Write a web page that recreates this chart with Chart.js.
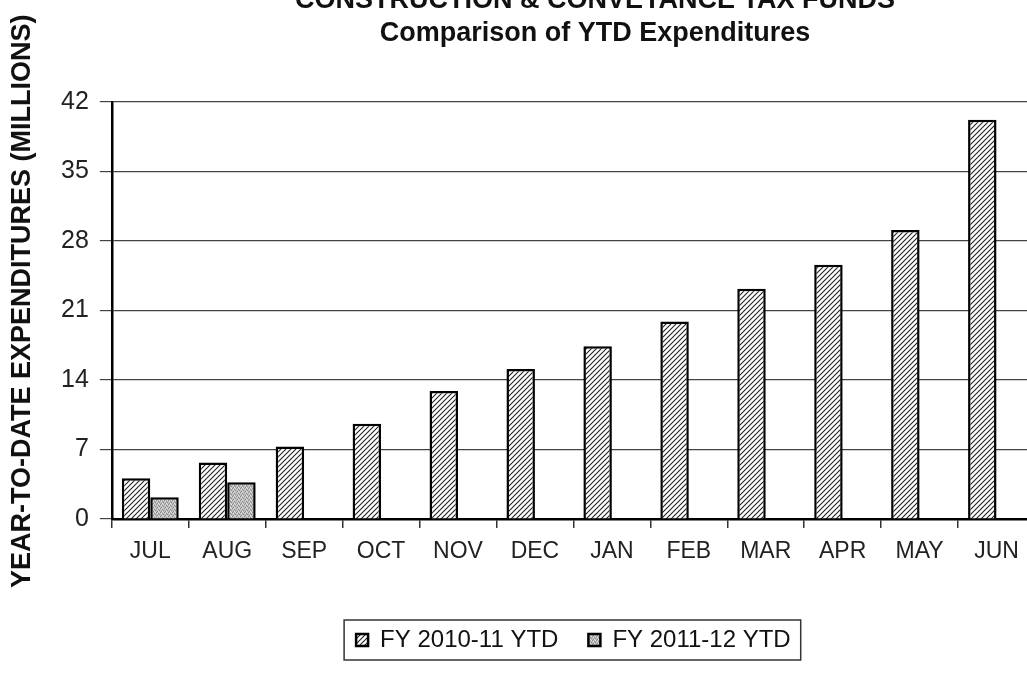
<!DOCTYPE html>
<html>
<head>
<meta charset="utf-8">
<script src="https://cdn.jsdelivr.net/npm/chart.js@4.4.1/dist/chart.umd.min.js"></script>
<style>
  html, body { margin: 0; padding: 0; background: #fff; overflow: hidden; }
  #wrap { width: 1027px; height: 677px; position: relative; overflow: hidden; }
</style>
</head>
<body>
<div id="wrap"><canvas id="chart" width="1035" height="677"></canvas></div>
<script>
const months = ["JUL", "AUG", "SEP", "OCT", "NOV", "DEC", "JAN", "FEB", "MAR", "APR", "MAY", "JUN"];
const fy1011 = [4.1, 5.7, 7.3, 9.6, 12.9, 15.1, 17.4, 19.9, 23.2, 25.6, 29.1, 40.2];
const fy1112 = [2.2, 3.7, null, null, null, null, null, null, null, null, null, null];
const seriesNames = ["FY 2010-11 YTD", "FY 2011-12 YTD"];
const yMax = 42;
const yStep = 7;
const titleLines = ["CONSTRUCTION & CONVEYANCE TAX FUNDS", "Comparison of YTD Expenditures"];
const yTitle = "YEAR-TO-DATE EXPENDITURES (MILLIONS)";

const FONT = "'Liberation Sans', Arial, sans-serif";

// hatch fill for the first series
function hatchPattern() {
    const s = 5;
    const c = document.createElement("canvas");
    c.width = s; c.height = s;
    const g = c.getContext("2d");
    g.fillStyle = "#fff";
    g.fillRect(0, 0, s, s);
    g.strokeStyle = "#222";
    g.lineWidth = 1.1;
    g.beginPath();
    g.moveTo(0, s); g.lineTo(s, 0);
    g.moveTo(-1, 1); g.lineTo(1, -1);
    g.moveTo(s - 1, s + 1); g.lineTo(s + 1, s - 1);
    g.stroke();
    return g.createPattern(c, "repeat");
}

// speckled grey fill for the second series
function stipplePattern() {
    const s = 4;
    const c = document.createElement("canvas");
    c.width = s; c.height = s;
    const g = c.getContext("2d");
    g.fillStyle = "#bdbdbd";
    g.fillRect(0, 0, s, s);
    g.fillStyle = "#8a8a8a";
    g.fillRect(0, 0, 1, 1); g.fillRect(2, 1, 1, 1); g.fillRect(1, 3, 1, 1); g.fillRect(3, 2, 1, 1);
    g.fillStyle = "#e2e2e2";
    g.fillRect(1, 1, 1, 1); g.fillRect(3, 0, 1, 1); g.fillRect(2, 3, 1, 1);
    return g.createPattern(c, "repeat");
}

const extraText = {
    id: "extraText",
    afterDraw(chart) {
        const ctx = chart.ctx;
        ctx.save();
        ctx.fillStyle = "#111";
        ctx.textAlign = "center";
        ctx.textBaseline = "middle";
        ctx.font = "bold 27px " + FONT;
        ctx.fillText(titleLines[0], 595, 1);
        ctx.fillText(titleLines[1], 595, 34);

        ctx.translate(23, 588);
        ctx.rotate(-Math.PI / 2);
        ctx.textAlign = "left";
        ctx.font = "bold 27px " + FONT;
        ctx.fillText(yTitle, 0, 0);
        ctx.restore();

        // frame around legend
        const lg = chart.legend;
        if (lg && lg.legendHitBoxes.length) {
            const hb = lg.legendHitBoxes;
            const l = hb[0].left - 12;
            const r = hb[hb.length - 1].left + hb[hb.length - 1].width + 10;
            const cy = hb[0].top + hb[0].height / 2;
            ctx.save();
            ctx.strokeStyle = "#333";
            ctx.lineWidth = 1.5;
            ctx.strokeRect(l, cy - 20, r - l, 40);
            ctx.restore();
        }
    }
};

new Chart(document.getElementById("chart"), {
    type: "bar",
    data: {
        labels: months,
        datasets: [
            {
                label: seriesNames[0],
                data: fy1011,
                backgroundColor: hatchPattern(),
                borderColor: "#000",
                borderWidth: 2.5
            },
            {
                label: seriesNames[1],
                data: fy1112,
                backgroundColor: stipplePattern(),
                borderColor: "#000",
                borderWidth: 2.5
            }
        ]
    },
    options: {
        responsive: false,
        animation: false,
        devicePixelRatio: 1,
        layout: { padding: { top: 102, left: 50, right: 0, bottom: 15 } },
        datasets: { bar: { categoryPercentage: 0.74, barPercentage: 1.0 } },
        scales: {
            x: {
                grid: { display: true, drawOnChartArea: false, offset: true, tickLength: 9, color: "#333", lineWidth: 1.5 },
                border: { color: "#000", width: 2.5 },
                ticks: { color: "#222", font: { family: FONT, size: 23 }, padding: 10, maxRotation: 0, autoSkip: false },
                afterFit(scale) { scale.height = 79; }
            },
            y: {
                min: 0,
                max: yMax,
                grid: { color: "#444", lineWidth: 1.2, tickLength: 12 },
                border: { color: "#000", width: 2.5 },
                ticks: { stepSize: yStep, color: "#222", font: { family: FONT, size: 25 }, padding: 11 }
            }
        },
        plugins: {
            title: { display: false },
            tooltip: { enabled: false },
            legend: {
                position: "bottom",
                fullSize: false,
                labels: {
                    color: "#111",
                    font: { family: FONT, size: 24 },
                    boxWidth: 12,
                    boxHeight: 12,
                    padding: 30
                }
            }
        }
    },
    plugins: [extraText]
});
</script>
</body>
</html>
